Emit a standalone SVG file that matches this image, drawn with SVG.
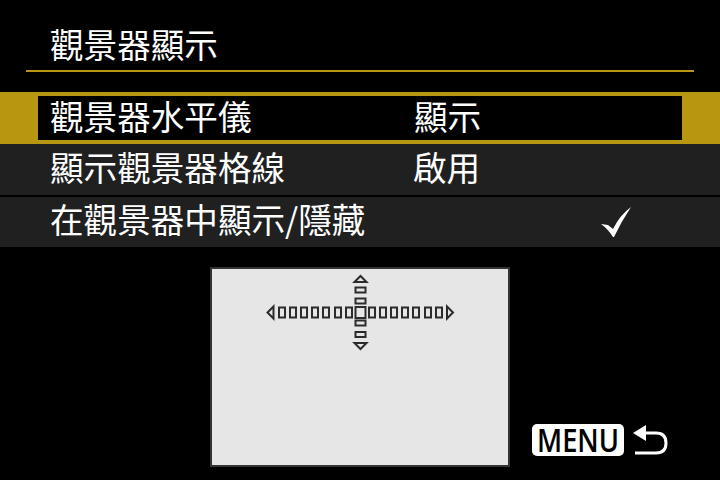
<svg xmlns="http://www.w3.org/2000/svg" width="720" height="480" viewBox="0 0 720 480">
<style>
text{font-family:"Noto Sans CJK TC","Liberation Sans",sans-serif;font-size:33.6px;fill:#fff}
.s{fill:none;stroke:#2b2b2b;stroke-width:2}
</style>
<defs>
<rect id="h" class="s" x="-3" y="-5" width="6" height="10"/>
<rect id="v" class="s" x="-5" y="-2.500" width="10" height="5"/>
</defs>
<rect width="720" height="480" fill="#000"/>
<text x="50" y="58">觀景器顯示</text>
<rect x="26" y="70" width="668" height="2" fill="#b8960f"/>
<g id="row1">
<rect x="0" y="92" width="720" height="52" fill="#b8960f"/>
<rect x="38" y="96" width="644" height="44" fill="#000"/>
<text x="50" y="130">觀景器水平儀</text>
<text x="414" y="130">顯示</text>
</g>
<g id="row2">
<rect x="0" y="144" width="720" height="51" fill="#202020"/>
<text x="50" y="181">顯示觀景器格線</text>
<text x="413" y="181">啟用</text>
</g>
<g id="row3">
<rect x="0" y="197" width="720" height="50" fill="#202020"/>
<text x="50" y="233">在觀景器中顯示/隱藏</text>
<path d="M601 224 L608 225 L613 229 Q620 215 631 207 Q621 222 614 237 L613 237 Q608 229 601 224Z" fill="#fff"/>
</g>
<g id="panel">
<rect x="211" y="268" width="298" height="198" fill="#e6e6e6" stroke="#333" stroke-width="2"/>
<g id="level">
<use href="#h" x="282" y="312.500"/><use href="#h" x="293" y="312.500"/><use href="#h" x="304" y="312.500"/><use href="#h" x="315" y="312.500"/><use href="#h" x="326" y="312.500"/><use href="#h" x="338" y="312.500"/><use href="#h" x="349" y="312.500"/>
<use href="#h" x="372" y="312.500"/><use href="#h" x="383" y="312.500"/><use href="#h" x="394" y="312.500"/><use href="#h" x="405" y="312.500"/><use href="#h" x="416" y="312.500"/><use href="#h" x="428" y="312.500"/><use href="#h" x="439" y="312.500"/>
<rect class="s" x="355.500" y="307" width="10" height="11"/>
<use href="#v" x="360.500" y="290"/><use href="#v" x="360.500" y="301"/><use href="#v" x="360.500" y="323"/><use href="#v" x="360.500" y="334.500"/>
<path class="s" d="M273.500 306.500 L267.500 312.500 L273.500 318.500Z"/>
<path class="s" d="M447 306.500 L453 312.500 L447 318.500Z"/>
<path class="s" d="M354.500 282 L360.500 276 L366.500 282Z"/>
<path class="s" d="M354.500 343 L360.500 349 L366.500 343Z"/>
</g>
</g>
<g id="menu">
<rect x="532" y="424" width="92" height="32" rx="5" fill="#fff"/>
<text x="537" y="452" style="font-family:'Open Sans','Liberation Sans',sans-serif;font-weight:600;font-size:32px;fill:#000" textLength="82" lengthAdjust="spacingAndGlyphs">MENU</text>
<path d="M633 433 L646 425 L646 441Z" fill="#fff"/>
<path d="M644 433 H656 Q666 433 666 443 Q666 453 656 453 H635" fill="none" stroke="#fff" stroke-width="3"/>
</g>
</svg>
